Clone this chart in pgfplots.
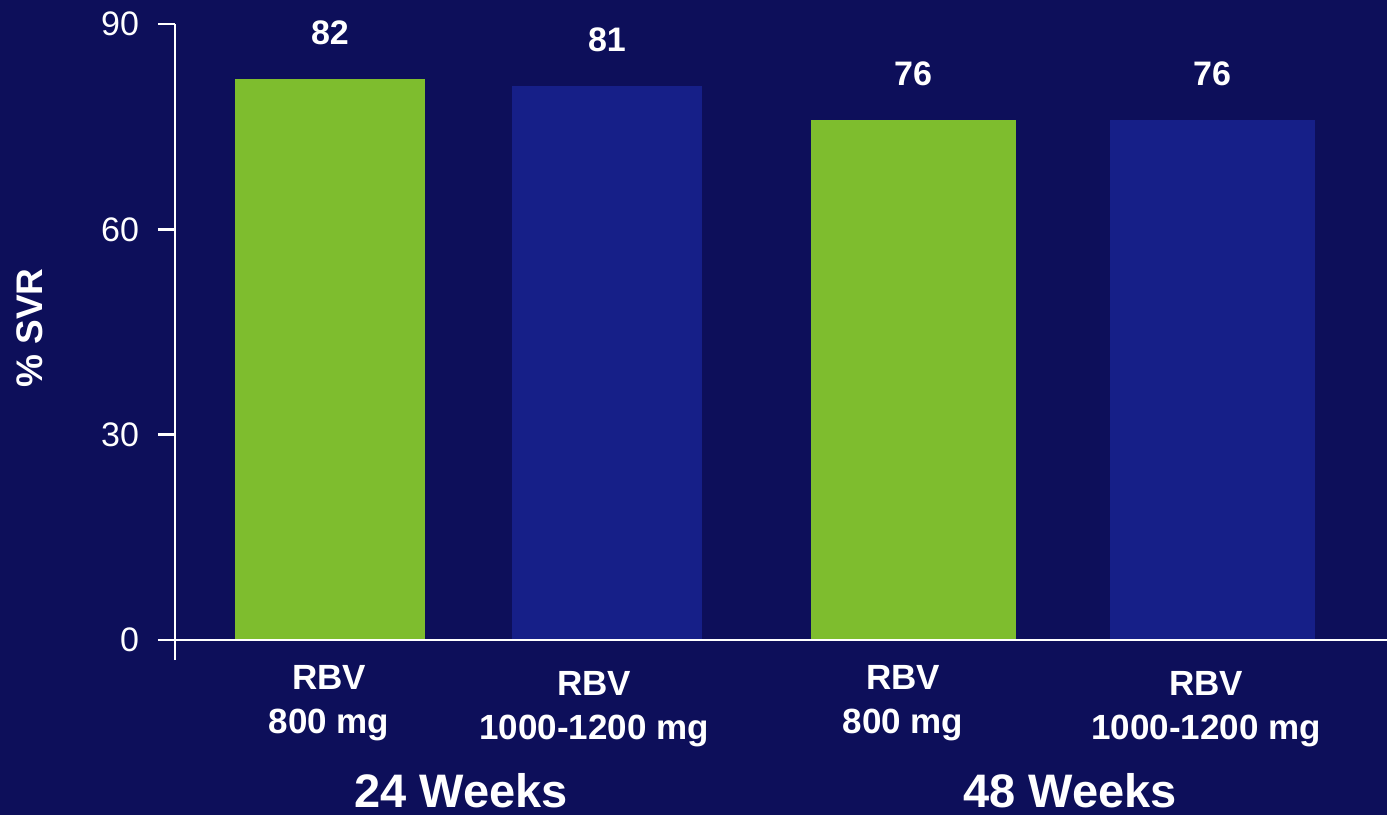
\documentclass[border=0pt]{standalone}
\usepackage{pgfplots}
\pgfplotsset{compat=1.18}
\usepackage{fontspec}
\setmainfont{Liberation Sans}

\definecolor{bgnavy}{HTML}{0D0F5A}
\definecolor{barblue}{HTML}{161F88}
\definecolor{bargreen}{HTML}{7EBD2E}

% lower a tick label block a little without changing its box
\newcommand{\low}[1]{\raisebox{-3pt}[\height][\depth]{#1}}

\begin{document}
\begin{tikzpicture}
\useasboundingbox (0,0) rectangle (693.5pt,407.5pt);
\fill[bgnavy] (0,0) rectangle (693.5pt,407.5pt);
\begin{axis}[
  at={(87.5pt,77.5pt)}, anchor=south west,
  scale only axis, width=606pt, height=318pt,
  xmin=175, xmax=1387, ymin=-2.92, ymax=90,
  axis x line*=bottom, axis y line*=left,
  x axis line style={draw=none},
  y axis line style={white, line width=1.25pt, -},
  ytick={0,30,60,90},
  xtick={329,594,903,1206},
  xticklabels={{RBV\\800 mg},{\low{RBV}\\\low{1000-1200 mg}},{RBV\\800 mg},{\low{RBV}\\\low{1000-1200 mg}}},
  x tick style={draw=none},
  y tick style={white, line width=1.25pt},
  tick align=outside, major tick length=8.5pt,
  ytick pos=left,
  /pgf/number format/assume math mode=true,
  yticklabel style={font=\fontsize{17}{21}\selectfont, text=white, xshift=-6pt},
  xticklabel style={font=\fontsize{17.5}{22}\selectfont\bfseries, text=white, align=center, yshift=9.5pt},
  ylabel={\% SVR},
  every axis y label/.style={at={(axis description cs:-0.1196,0.522)}, rotate=90, anchor=center,
    font=\fontsize{18.5}{22}\selectfont\bfseries, text=white},
  clip=false,
  ybar, bar shift=0pt,
  nodes near coords,
  every node near coord/.append style={font=\fontsize{17}{21}\selectfont\bfseries, text=white, yshift=13.5pt},
]
% 24 weeks
\addplot[fill=bargreen, draw=none, bar width=190] coordinates {(330,82)};
\addplot[fill=barblue, draw=none, bar width=190] coordinates {(607,81)};
% 48 weeks
\addplot[fill=bargreen, draw=none, bar width=205] coordinates {(913,76)};
\addplot[fill=barblue, draw=none, bar width=205] coordinates {(1212,76)};

% baseline at zero
\draw[white, line width=1.25pt] (axis cs:158,0) -- (axis cs:1387,0);

% treatment duration groups
\node[font=\fontsize{23.5}{28}\selectfont\bfseries, text=white, anchor=base, inner sep=0pt] at (axis cs:461,-24.5) {24 Weeks};
\node[font=\fontsize{23.5}{28}\selectfont\bfseries, text=white, anchor=base, inner sep=0pt] at (axis cs:1070,-24.5) {48 Weeks};
\end{axis}
\end{tikzpicture}
\end{document}
